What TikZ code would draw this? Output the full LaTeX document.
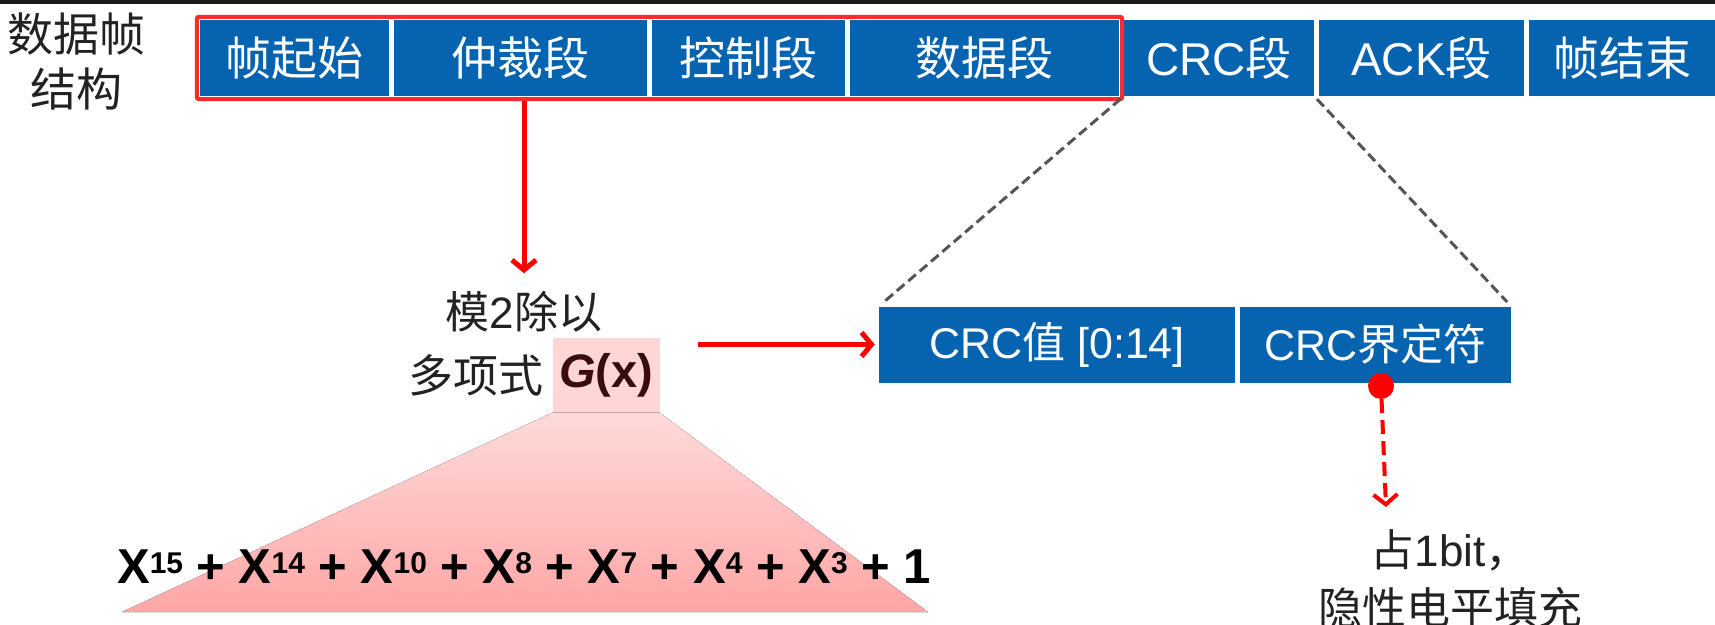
\documentclass[tikz,border=0pt]{standalone}
\usepackage{fontspec}
\setmainfont{Liberation Sans}
\newfontfamily\cjk{Noto Sans CJK SC}
\usepackage{tikz}
\usetikzlibrary{positioning,arrows.meta,fit,calc}
\definecolor{canblue}{HTML}{0563B0}
\definecolor{framered}{HTML}{FF2A2A}
\definecolor{arrowred}{HTML}{FF0000}
\definecolor{pinklight}{HTML}{FFDADA}
\definecolor{pinkdark}{HTML}{FFA6A6}
\definecolor{gxpink}{HTML}{FFD6D6}
\definecolor{gxtext}{HTML}{3A0D0D}
\definecolor{zoomgray}{HTML}{555555}
\definecolor{txtgray}{HTML}{222222}
\newcommand{\pexp}[1]{\raisebox{10pt}{\fontsize{30}{30}\selectfont #1}}

\tikzset{
  seg/.style={fill=canblue, text=white, minimum height=76pt, inner sep=0pt,
    font=\fontsize{46}{52}\selectfont},
  lbl/.style={inner sep=2pt, text=txtgray, font=\fontsize{44}{58}\selectfont},
  redarrow/.style={draw=arrowred, line width=5pt,
    -{Straight Barb[length=10pt,width=24pt]}},
  reddash/.style={redarrow, line width=4pt, dash pattern=on 14pt off 7pt},
  zoomline/.style={draw=zoomgray, line width=3pt, dash pattern=on 10pt off 5pt}
}

\begin{document}
\begin{tikzpicture}[x=1pt, y=-1pt]
  \useasboundingbox (0,0) rectangle (1715,624);
  \fill[black!90] (0,0) rectangle (1715,4);

  % Campos de la trama
  \node[lbl, align=center, font=\cjk\fontsize{46}{55}\selectfont] (title) at (77,62) {数据帧\\结构};
  \foreach \n/\t/\xa/\xb in {
    sof/{\cjk 帧起始}/200/389, arb/{\cjk 仲裁段}/394/647,
    ctrl/{\cjk 控制段}/652/845, data/{\cjk 数据段}/850/1119,
    crc/{CRC{\cjk 段}}/1124/1314, ack/{ACK{\cjk 段}}/1319/1524,
    eof/{\cjk 帧结束}/1529/1715}{
    \node[seg, minimum width={(\xb-\xa)*1pt}] (\n) at ({(\xa+\xb)/2},58) {\t};
  }
  \node[draw=framered, line width=4pt, inner sep=3pt, rounded corners=2pt,
    fit=(sof)(data)] (frame) {};

  % Polinomio generador
  \node[lbl] (mod) at (524,312) {{\cjk 模}2{\cjk 除以}};
  \node[fill=gxpink, minimum width=107pt, minimum height=75pt, inner sep=0pt,
    text=gxtext, font=\bfseries\fontsize{47}{50}\selectfont] (gx) at (606,375) {\textit{G}(x)};
  \node[lbl, left=7pt of gx, font=\cjk\fontsize{45}{56}\selectfont] (poly) {多项式};
  \fill[top color=pinklight, bottom color=pinkdark]
    (gx.south west) -- (gx.south east) -- (928,612) -- (122,612) -- cycle;
  \node[anchor=base, inner sep=0pt, font=\bfseries\fontsize{49}{55}\selectfont] (gpoly) at (524,583)
    {X\pexp{15} + X\pexp{14} + X\pexp{10} + X\pexp{8} + X\pexp{7} + X\pexp{4} + X\pexp{3} + 1};
  \draw[redarrow, shorten >=16pt] (frame.south -| mod.north) -- (mod.north);

  % Campo CRC
  \node[seg, minimum width=356pt, font=\fontsize{43}{50}\selectfont] (crcval) at (1057,344.5) {CRC{\cjk 值} [0:14]};
  \node[seg, minimum width=271pt, font=\fontsize{43}{50}\selectfont] (crcdelim) at (1375.5,344.5) {CRC{\cjk 界定符}};
  \draw[zoomline, shorten <=4pt, shorten >=6pt] (crc.south west) -- (crcval.north west);
  \draw[zoomline, shorten <=4pt, shorten >=6pt] (crc.south east) -- (crcdelim.north east);
  \draw[redarrow, shorten <=38pt, shorten >=4pt] (gx.east |- crcval.west) -- (crcval.west);

  % Delimitador
  \node[circle, fill=arrowred, minimum size=26pt, inner sep=0pt] (dot) at (1381,386) {};
  \coordinate (tip) at (1386,507);
  \draw[reddash] (dot) -- (tip);
  \node[lbl, align=center] (note) at (1450,579) {{\cjk 占}1bit{\cjk ，}\\{\cjk 隐性电平填充}};
\end{tikzpicture}
\end{document}
